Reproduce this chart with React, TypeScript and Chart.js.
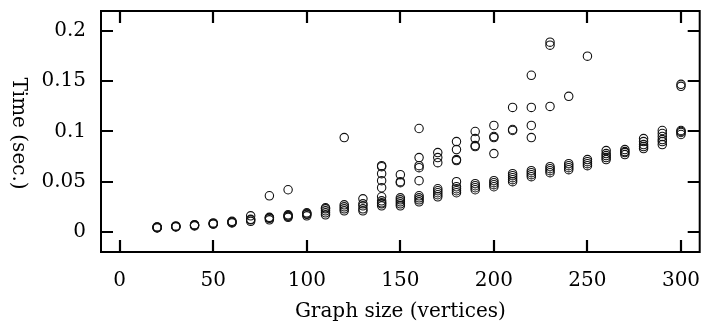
import React, { useEffect, useRef } from "react";
import { Chart, registerables } from "chart.js";

Chart.register(...registerables);

// Graph sizes (vertices) at which runs were timed
const sizes = [20, 30, 40, 50, 60, 70, 80, 90, 100, 110, 120, 130, 140, 150, 160, 170, 180, 190, 200, 210, 220, 230, 240, 250, 260, 270, 280, 290, 300];

// Run times (sec.) observed for each graph size
const runTimes: number[][] = [
  [0.004, 0.0045, 0.005, 0.0042, 0.0048],
  [0.005, 0.0055, 0.006, 0.0052],
  [0.006, 0.0068, 0.0072, 0.0065],
  [0.008, 0.0085, 0.009, 0.0078],
  [0.009, 0.0095, 0.0105, 0.01],
  [0.0105, 0.012, 0.0125, 0.016],
  [0.012, 0.0135, 0.014, 0.0145, 0.036],
  [0.0145, 0.0155, 0.016, 0.017, 0.042],
  [0.016, 0.0175, 0.018, 0.019],
  [0.017, 0.019, 0.021, 0.023, 0.024],
  [0.021, 0.023, 0.025, 0.027, 0.094],
  [0.021, 0.023, 0.026, 0.028, 0.033],
  [0.026, 0.028, 0.029, 0.031, 0.035, 0.044, 0.051, 0.058, 0.065, 0.066],
  [0.026, 0.028, 0.03, 0.032, 0.034, 0.049, 0.05, 0.057],
  [0.03, 0.032, 0.034, 0.036, 0.051, 0.064, 0.066, 0.074, 0.103],
  [0.035, 0.037, 0.039, 0.041, 0.043, 0.069, 0.074, 0.079],
  [0.039, 0.041, 0.043, 0.045, 0.05, 0.071, 0.072, 0.082, 0.09],
  [0.042, 0.044, 0.046, 0.048, 0.085, 0.086, 0.093, 0.1],
  [0.045, 0.047, 0.049, 0.051, 0.078, 0.094, 0.095, 0.106],
  [0.05, 0.052, 0.054, 0.056, 0.058, 0.101, 0.102, 0.124],
  [0.055, 0.057, 0.059, 0.061, 0.094, 0.106, 0.124, 0.156],
  [0.059, 0.061, 0.063, 0.065, 0.125, 0.186, 0.189],
  [0.062, 0.064, 0.066, 0.068, 0.135],
  [0.066, 0.068, 0.07, 0.072, 0.175],
  [0.072, 0.074, 0.076, 0.078, 0.081],
  [0.077, 0.079, 0.08, 0.082],
  [0.083, 0.085, 0.087, 0.09, 0.093],
  [0.087, 0.09, 0.092, 0.095, 0.098, 0.101],
  [0.097, 0.099, 0.1, 0.101, 0.145, 0.147],
];

const xTicks = [0, 50, 100, 150, 200, 250, 300];
const xTickLabels = ["0", "50", "100", "150", "200", "250", "300"];
const yTicks = [0, 0.05, 0.1, 0.15, 0.2];
const yTickLabels = ["0", "0.05", "0.1", "0.15", "0.2"];

const xTitle = "Graph size (vertices)";
const yTitle = "Time (sec.)";

const FONT_FAMILY = "'DejaVu Serif', 'Liberation Serif', serif";
const FONT_SIZE = 20;

const framePlugin = {
  id: "frame",
  afterDraw(chart: any) {
    const { ctx, chartArea, scales } = chart;
    const { left, right, top, bottom } = chartArea;
    ctx.save();
    ctx.strokeStyle = "#000";
    ctx.lineWidth = 2;
    ctx.strokeRect(left, top, right - left, bottom - top);
    const tl = 12;
    ctx.lineWidth = 2.2;
    ctx.beginPath();
    for (const v of xTicks) {
      const px = Math.round(scales.x.getPixelForValue(v));
      ctx.moveTo(px, bottom);
      ctx.lineTo(px, bottom - tl);
      ctx.moveTo(px, top);
      ctx.lineTo(px, top + tl);
    }
    for (const v of yTicks) {
      const py = Math.round(scales.y.getPixelForValue(v));
      ctx.moveTo(left, py);
      ctx.lineTo(left + tl, py);
      ctx.moveTo(right, py);
      ctx.lineTo(right - tl, py);
    }
    ctx.stroke();
    // rotated y title (reads top to bottom)
    ctx.fillStyle = "#000";
    ctx.font = `${FONT_SIZE}px ${FONT_FAMILY}`;
    ctx.textAlign = "center";
    ctx.textBaseline = "middle";
    ctx.translate(18, (top + bottom) / 2 + 2);
    ctx.rotate(Math.PI / 2);
    ctx.fillText(yTitle, 0, 0);
    ctx.restore();
  },
};

export default function App() {
  const ref = useRef<HTMLCanvasElement | null>(null);

  useEffect(() => {
    if (!ref.current) return;
    const points = sizes.flatMap((s, i) => runTimes[i].map((t) => ({ x: s, y: t })));
    const font = { family: FONT_FAMILY, size: FONT_SIZE };
    const chart = new Chart(ref.current, {
      type: "scatter",
      data: {
        datasets: [
          {
            data: points,
            pointStyle: "circle",
            pointRadius: 4.2,
            pointHoverRadius: 4.2,
            borderWidth: 1.1,
            borderColor: "#111",
            backgroundColor: "rgba(0,0,0,0)",
          },
        ],
      },
      options: {
        animation: false,
        responsive: false,
        events: [],
        layout: { padding: { top: 11, right: 5, left: 0, bottom: 0 } },
        plugins: { legend: { display: false }, tooltip: { enabled: false } },
        scales: {
          x: {
            type: "linear",
            min: -10,
            max: 310,
            afterBuildTicks: (s: any) => {
              s.ticks = xTicks.map((v) => ({ value: v }));
            },
            afterFit: (s: any) => {
              s.height = 75;
              s.paddingLeft = 0;
              s.paddingRight = 0;
            },
            ticks: {
              autoSkip: false,
              maxRotation: 0,
              color: "#000",
              font,
              padding: 17,
              callback: (_v: any, i: number) => xTickLabels[i],
            },
            grid: { display: false, drawTicks: false },
            border: { display: false },
            title: {
              display: true,
              text: xTitle,
              color: "#000",
              font,
              padding: { top: 0, bottom: 3 },
            },
          },
          y: {
            type: "linear",
            min: -0.02,
            max: 0.22,
            afterBuildTicks: (s: any) => {
              s.ticks = yTicks.map((v) => ({ value: v }));
            },
            afterFit: (s: any) => {
              s.width = 101;
              s.paddingTop = 0;
              s.paddingBottom = 0;
            },
            ticks: {
              autoSkip: false,
              color: "#000",
              font,
              padding: 15,
              callback: (_v: any, i: number) => yTickLabels[i],
            },
            grid: { display: false, drawTicks: false },
            border: { display: false },
          },
        },
      },
      plugins: [framePlugin],
    } as any);
    return () => chart.destroy();
  }, []);

  return (
    <div style={{ position: "absolute", left: 0, top: 0, width: 705, height: 327, background: "#fff" }}>
      <canvas ref={ref} width={705} height={327} style={{ display: "block" }} />
    </div>
  );
}
